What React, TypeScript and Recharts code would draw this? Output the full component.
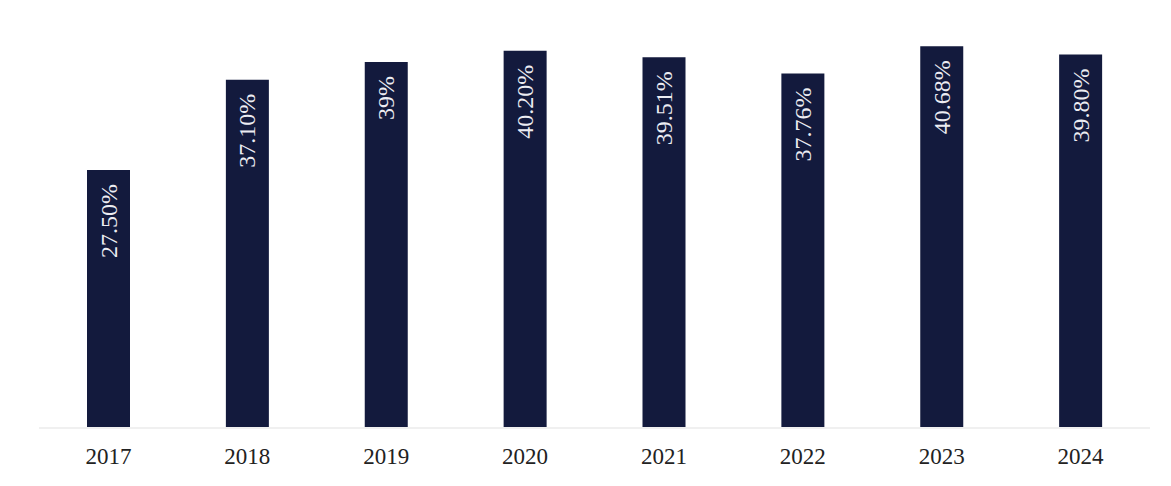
import React from "react";
import { BarChart, Bar, XAxis, YAxis, LabelList } from "recharts";

const years = ["2017", "2018", "2019", "2020", "2021", "2022", "2023", "2024"];
const values = [27.5, 37.1, 39, 40.2, 39.51, 37.76, 40.68, 39.8];
const labels = ["27.50%", "37.10%", "39%", "40.20%", "39.51%", "37.76%", "40.68%", "39.80%"];

const data = years.map((y, i) => ({ year: y, value: values[i], label: labels[i] }));

const FONT = "'Liberation Serif', 'Times New Roman', serif";

const InLabel = (props: any) => {
  const { x, y, width, value } = props;
  const cx = x + width / 2;
  const ay = y + 14;
  return (
    <text
      x={cx}
      y={ay}
      transform={`rotate(-90, ${cx}, ${ay})`}
      textAnchor="end"
      dominantBaseline="central"
      fill="#ececf2"
      style={{ fontFamily: FONT, fontSize: 24 }}
    >
      {value}
    </text>
  );
};

export default function App() {
  return (
    <div style={{ width: 1163, height: 470, background: "#fff" }}>
      <BarChart
        width={1163}
        height={470}
        data={data}
        margin={{ top: 7, right: 21, left: 31, bottom: 20 }}
        barCategoryGap={0}
      >
        <XAxis
          dataKey="year"
          axisLine={{ stroke: "#f0f0f0", strokeWidth: 2 }}
          tickLine={false}
          height={30}
          tickMargin={14}
          tick={{ fill: "#222", fontFamily: FONT, fontSize: 23 }}
          interval={0}
        />
        <YAxis hide domain={[0, 44]} />
        <Bar dataKey="value" fill="#131a3d" barSize={43} isAnimationActive={false}>
          <LabelList dataKey="label" content={InLabel} />
        </Bar>
      </BarChart>
    </div>
  );
}
